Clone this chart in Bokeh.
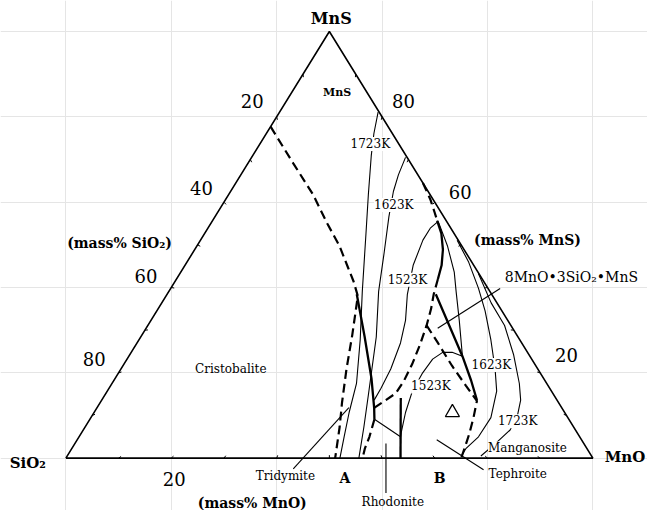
import numpy as np
from bokeh.plotting import figure
from bokeh.models import Label, Range1d
from bokeh.embed import file_html
from bokeh.resources import INLINE

# ---------------- data: compositions as (mass% MnO, mass% MnS); SiO2 = rest ----------------
tick_values = [10, 20, 30, 40, 50, 60, 70, 80, 90]
sio2_labels = ["20", "40", "60", "80"]
mns_labels = ["80", "60", "20"]
mno_labels = ["20"]

# dashed phase boundaries
dash_a_mno = [0.0, 8.6, 16.0, 22.1, 27.0, 31.1, 33.9, 36.4, 39.9, 42.8, 45.9, 48.3, 51.1]
dash_a_mns = [77.7, 69.1, 61.8, 55.0, 49.8, 44.8, 41.4, 38.0, 28.9, 20.9, 13.0, 7.3, 0.0]
dash_b_mno = [54.0, 55.1, 55.6, 56.3]
dash_b_mns = [9.1, 5.0, 2.3, 0.0]
dash_c_mno = [52.6, 53.9, 55.0, 55.1, 54.7, 53.9, 52.9, 51.8, 50.6, 49.6]
dash_c_mns = [11.8, 13.6, 15.2, 18.0, 22.0, 26.6, 31.1, 35.0, 38.4, 42.0]
dash_d_mno = [52.9, 56.8, 62.5, 67.4, 71.3, 72.6, 73.7, 74.5, 75.0]
dash_d_mns = [31.1, 27.3, 21.6, 17.0, 13.4, 9.5, 5.7, 2.3, 0.0]
dash_e_mno = [35.5, 38.8, 41.1, 42.6]
dash_e_mns = [64.5, 60.7, 57.7, 55.7]

# thick solid boundaries
thick_a_mno = [36.0, 42.5, 48.7, 52.6, 54.0]
thick_a_mns = [38.4, 28.4, 18.6, 11.8, 9.1]
thick_b_mno = [51.0, 57.2, 63.3, 67.8, 71.2]
thick_b_mns = [38.4, 31.1, 23.9, 18.2, 13.6]
thick_c_mno = [42.6, 44.9, 47.1, 48.7, 49.6]
thick_c_mns = [55.7, 52.7, 48.9, 45.2, 42.0]
thick_d_mno = [56.5, 63.5]
thick_d_mns = [14.1, 0.0]

# thin boundary
thin_a_mno = [54.0, 57.1, 61.0]
thin_a_mns = [9.1, 7.3, 5.0]

# isotherms
iso_1723_up_mno = [18.7, 20.4, 22.5, 26.5, 30.6, 36.7, 42.0, 46.4, 48.4, 50.3, 52.0]
iso_1723_up_mns = [81.1, 76.1, 70.9, 61.8, 52.7, 39.1, 27.7, 17.5, 10.7, 5.0, 0.0]
iso_1623_up_mno = [29.2, 29.9, 30.9, 33.0, 36.3, 39.8, 44.7, 50.0, 52.9, 55.6]
iso_1623_up_mns = [70.5, 66.4, 62.5, 56.6, 48.2, 39.1, 28.4, 14.8, 7.3, 0.0]
iso_1523_up_mno = [42.9, 42.2, 42.2, 43.3, 45.6, 48.3, 50.0, 51.2, 51.6, 51.7]
iso_1523_up_mns = [55.5, 53.9, 51.1, 45.2, 38.4, 32.3, 27.0, 20.9, 16.4, 13.6]
iso_1523_r_mno = [42.9, 47.5, 51.9, 54.5, 58.5, 63.3]
iso_1523_r_mns = [55.5, 49.8, 43.6, 39.1, 32.3, 23.9]
iso_1523_lo_mno = [63.3, 60.9, 59.1, 58.0, 57.7, 57.9, 59.1, 60.6, 61.2]
iso_1523_lo_mns = [23.9, 24.8, 24.8, 23.2, 19.8, 15.7, 10.7, 6.1, 4.5]
iso_1623_lo_mno = [48.7, 53.5, 58.4, 62.3, 66.8, 71.0, 73.9, 75.9, 75.8, 74.8, 74.8]
iso_1623_lo_mns = [51.1, 45.9, 39.8, 34.5, 27.7, 20.9, 15.7, 9.5, 5.0, 2.3, 0.5]
iso_1723_lo_mno = [56.7, 62.5, 67.7, 72.8, 77.3, 79.5, 80.7, 81.0, 79.8, 78.5]
iso_1723_lo_mns = [43.2, 36.4, 31.1, 24.3, 17.5, 13.6, 10.0, 6.6, 3.4, 0.5]

# experimental point (open triangle)
point_mno = [68.0]
point_mns = [10.7]

# ---------------- layout ----------------
W, H = 647, 510                 # canvas (fits the 663x526 window with 8px margin)
RW, RH = 663.0, 526.0           # reference picture extent
X0, Y0, SX, SY = 67.0, 472.0, 5.4, 4.4   # triangle in reference pixels
KX, KY = W / RW, H / RH


def tern(mno, mns):
    mno = np.asarray(mno, float)
    mns = np.asarray(mns, float)
    return mno + mns / 2.0, mns


def at(px, py):
    return (px - X0) / SX, (Y0 - py) / SY


p = figure(width=W, height=H, output_backend="svg", toolbar_location=None,
           x_axis_location=None, y_axis_location=None, min_border=0,
           x_range=Range1d(-X0 / SX, (RW - X0) / SX),
           y_range=Range1d((Y0 - RH) / SY, Y0 / SY))
p.outline_line_color = None
p.background_fill_color = "white"
p.border_fill_color = "white"

# triangle
tx, ty = tern([0, 100, 0, 0], [0, 0, 100, 0])
p.line(tx, ty, line_color="black", line_width=1.6)

# tiny inward ticks
cx, cy = tern([100 / 3], [100 / 3])
sx, sy = SX * KX, SY * KY
tick_xs, tick_ys = [], []
for v in tick_values:
    for mno, mns in ((v, 0), (0, v), (100 - v, v)):
        x, y = tern([mno], [mns])
        dx, dy = (cx[0] - x[0]) * sx, (cy[0] - y[0]) * sy
        n = np.hypot(dx, dy)
        tick_xs.append([x[0], x[0] + dx / n * 3 / sx])
        tick_ys.append([y[0], y[0] + dy / n * 3 / sy])
p.multi_line(tick_xs, tick_ys, line_color="black", line_width=1)

dash_kw = dict(line_color="black", line_width=2.2, line_dash="9 5")
for a, b in ((dash_a_mno, dash_a_mns), (dash_b_mno, dash_b_mns), (dash_c_mno, dash_c_mns),
             (dash_d_mno, dash_d_mns), (dash_e_mno, dash_e_mns)):
    x, y = tern(a, b)
    p.line(x, y, **dash_kw)

for a, b in ((thick_a_mno, thick_a_mns), (thick_b_mno, thick_b_mns),
             (thick_c_mno, thick_c_mns), (thick_d_mno, thick_d_mns)):
    x, y = tern(a, b)
    p.line(x, y, line_color="black", line_width=2.3)

for a, b in ((thin_a_mno, thin_a_mns), (iso_1723_up_mno, iso_1723_up_mns),
             (iso_1623_up_mno, iso_1623_up_mns), (iso_1523_up_mno, iso_1523_up_mns),
             (iso_1523_r_mno, iso_1523_r_mns), (iso_1523_lo_mno, iso_1523_lo_mns),
             (iso_1623_lo_mno, iso_1623_lo_mns), (iso_1723_lo_mno, iso_1723_lo_mns)):
    x, y = tern(a, b)
    p.line(x, y, line_color="black", line_width=1.1)

# leader lines (layout, reference pixels)
leaders = [(357, 420, 300, 483), (395, 457, 395, 508), (447, 453, 495, 484), (448, 338, 512, 297)]
lx, ly = [], []
for x1, y1, x2, y2 in leaders:
    a1, b1 = at(x1, y1)
    a2, b2 = at(x2, y2)
    lx.append([a1, a2])
    ly.append([b1, b2])
p.multi_line(lx, ly, line_color="black", line_width=1.1)

px_, py_ = tern(point_mno, point_mns)
p.scatter(px_, py_, marker="triangle", size=14, fill_color=None,
          line_color="black", line_width=1.3)

FONT = "DejaVu Serif"


def label(text, px, py, size, bold=False, bg=False):
    x, y = at(px, py)
    kw = dict(x=x, y=y, text=text, text_align="center", text_baseline="middle",
              text_font=FONT, text_font_size=f"{size}px",
              text_font_style="bold" if bold else "normal", text_color="black")
    if bg:
        kw["background_fill_color"] = "white"
    p.add_layout(Label(**kw))


# vertex labels
label("MnS", 339, 19, 16, True)
label("SiO₂", 28, 477, 15, True)
label("MnO", 640, 471, 15, True)
# axis titles
label("(mass% SiO₂)", 122, 250, 14, True)
label("(mass% MnS)", 540, 247, 14, True)
label("(mass% MnO)", 258, 518, 14, True)
# tick labels
for t, (x, y) in zip(sio2_labels, [(258, 104), (206, 193), (149, 284), (96, 370)]):
    label(t, x, y, 18)
for t, (x, y) in zip(mns_labels, [(413, 104), (471, 198), (580, 366)]):
    label(t, x, y, 18)
for t, (x, y) in zip(mno_labels, [(178, 493)]):
    label(t, x, y, 18)
# field / isotherm labels
label("MnS", 345, 95, 11, True)
label("1723K", 379, 148, 12, bg=True)
label("1623K", 403, 211, 12, bg=True)
label("1523K", 417, 288, 12, bg=True)
label("1523K", 441, 398, 12, bg=True)
label("1623K", 503, 376, 12, bg=True)
label("1723K", 530, 434, 12, bg=True)
label("Manganosite", 540, 462, 12, bg=True)
label("Tephroite", 530, 488, 12)
label("Rhodonite", 402, 517, 12)
label("Tridymite", 292, 490, 12)
label("Cristobalite", 236, 380, 12)
label("8MnO•3SiO₂•MnS", 585, 285, 14)
label("A", 353, 492, 14, True)
label("B", 450, 492, 14, True)

open("out.html", "w").write(file_html(p, INLINE))
